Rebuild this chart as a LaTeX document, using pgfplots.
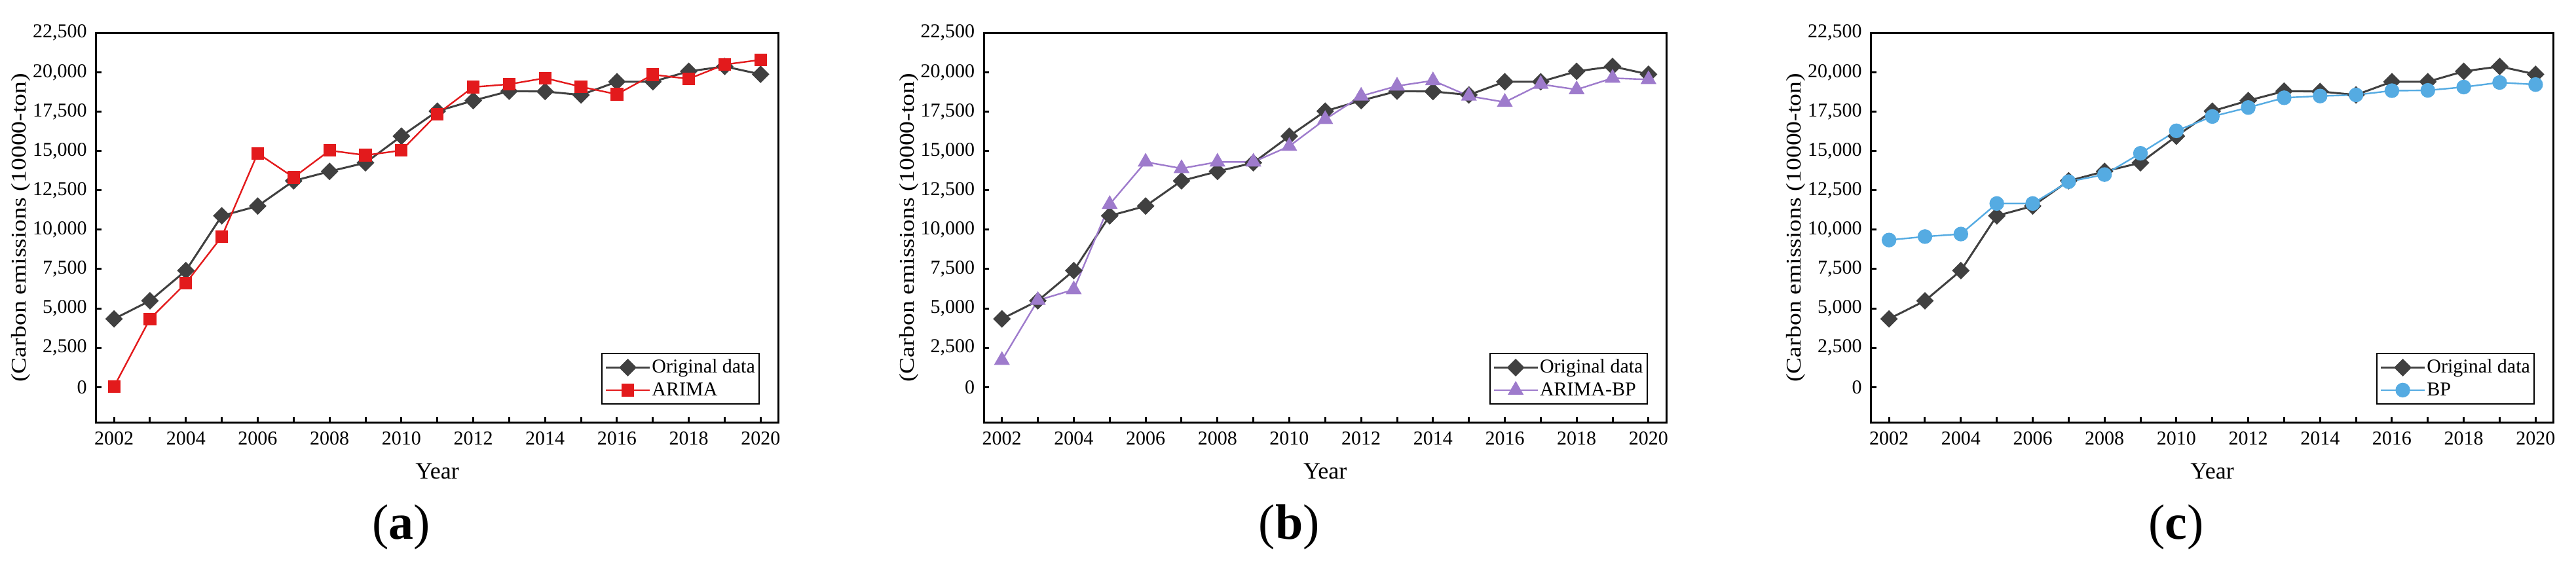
\documentclass[border=0pt]{standalone}
\usepackage{fontspec}
\setmainfont{Liberation Serif}
\usepackage{pgfplots}
\usepackage{graphicx}
\pgfplotsset{compat=1.18}
\definecolor{origc}{HTML}{404040}
\definecolor{arimac}{HTML}{E31A1C}
\definecolor{abpc}{HTML}{9E7BCC}
\definecolor{bpc}{HTML}{55ABE2}

\pgfplotstableread{
year val
2002 4330
2003 5480
2004 7400
2005 10880
2006 11500
2007 13100
2008 13700
2009 14250
2010 15940
2011 17530
2012 18200
2013 18800
2014 18780
2015 18560
2016 19400
2017 19400
2018 20060
2019 20370
2020 19870
}\orig

\pgfplotstableread{
year val
2002 30
2003 4330
2004 6600
2005 9560
2006 14850
2007 13320
2008 15030
2009 14730
2010 15030
2011 17350
2012 19060
2013 19240
2014 19630
2015 19080
2016 18600
2017 19850
2018 19580
2019 20490
2020 20790
}\arima

\pgfplotstableread{
year val
2002 1700
2003 5510
2004 6190
2005 11610
2006 14300
2007 13890
2008 14300
2009 14300
2010 15300
2011 17010
2012 18490
2013 19130
2014 19470
2015 18490
2016 18100
2017 19240
2018 18900
2019 19630
2020 19540
}\arimabp

\pgfplotstableread{
year val
2002 9340
2003 9560
2004 9720
2005 11660
2006 11660
2007 13050
2008 13500
2009 14850
2010 16280
2011 17190
2012 17760
2013 18380
2014 18490
2015 18560
2016 18830
2017 18850
2018 19060
2019 19350
2020 19220
}\bp

\pgfplotsset{
  panel/.style={
    scale only axis, width=260.5pt, height=148.75pt,
    anchor=south west,
    xmin=2001.5, xmax=2020.5, ymin=-2250, ymax=22500,
    xtick={2002,2004,...,2020}, minor xtick={2003,2005,...,2019},
    ytick={0,2500,...,22500},
    scaled y ticks=false, scaled x ticks=false,
    tick align=inside, tick pos=left,
    major tick length=2pt, minor tick length=2pt,
    tick style={line width=0.75pt, black},
    axis line style={line width=0.75pt},
    ticklabel style={font=\fontsize{7.5}{9}\selectfont},
    /pgf/number format/assume math mode=true,
    x tick label style={/pgf/number format/1000 sep={}},
    y tick label style={/pgf/number format/1000 sep={,}},
    legend cell align=left,
    legend style={at={(rel axis cs:1,0)}, anchor=south east,
      xshift=-7.2pt, yshift=6.8pt, draw=black, line width=0.5pt,
      inner xsep=1pt, inner ysep=1pt,
      font=\fontsize{7.5}{9}\selectfont,
      nodes={inner xsep=0.5pt, inner ysep=0.4pt, text height=6pt, text depth=1.8pt}},
    legend image code/.code={
      \draw[mark repeat=2, mark phase=2] plot coordinates {(0pt,0pt) (8.4pt,0pt) (16.75pt,0pt)};
    },
  },
  origstyle/.style={color=origc, line width=0.75pt, mark=square*, mark size=2.0pt,
    mark options={rotate=45, solid, fill=origc, draw=origc}},
}

\newcommand{\ylab}{\scalebox{1.18}[1]{\fontsize{8}{9.6}\selectfont (Carbon emissions (10000-ton)}}

\begin{document}
\begin{tikzpicture}
\path[use as bounding box] (0,0) rectangle (983.25pt,214.75pt);

% Panel (a)
\begin{axis}[panel, at={(36.675pt,53.425pt)}]
\addplot[origstyle] table[x=year,y=val] {\orig};
\addlegendentry{Original data}
\addplot[color=arimac, line width=0.6pt, mark=square*, mark size=2.1pt,
  mark options={solid, fill=arimac}] table[x=year,y=val] {\arima};
\addlegendentry{ARIMA}
\end{axis}

% Panel (b)
\begin{axis}[panel, at={(375.575pt,53.425pt)}]
\addplot[origstyle] table[x=year,y=val] {\orig};
\addlegendentry{Original data}
\addplot[color=abpc, line width=0.6pt, mark=triangle*, mark size=2.9pt,
  mark options={solid, fill=abpc}] table[x=year,y=val] {\arimabp};
\addlegendentry{ARIMA-BP}
\end{axis}

% Panel (c)
\begin{axis}[panel, at={(714.175pt,53.425pt)}]
\addplot[origstyle] table[x=year,y=val] {\orig};
\addlegendentry{Original data}
\addplot[color=bpc, line width=0.6pt, mark=*, mark size=2.5pt,
  mark options={solid, fill=bpc}] table[x=year,y=val] {\bp};
\addlegendentry{BP}
\end{axis}

% y labels
\node[rotate=90, anchor=center, inner sep=0pt] at (8pt,127.8pt) {\ylab};
\node[rotate=90, anchor=center, inner sep=0pt] at (346.9pt,127.8pt) {\ylab};
\node[rotate=90, anchor=center, inner sep=0pt] at (685.4pt,127.8pt) {\ylab};

% x labels
\node[anchor=base, inner sep=0pt, font=\fontsize{9}{11}\selectfont] at (166.9pt,31.8pt) {Year};
\node[anchor=base, inner sep=0pt, font=\fontsize{9}{11}\selectfont] at (505.8pt,31.8pt) {Year};
\node[anchor=base, inner sep=0pt, font=\fontsize{9}{11}\selectfont] at (844.4pt,31.8pt) {Year};

% panel captions
\node[anchor=base, inner sep=0pt, font=\fontsize{19}{22}\selectfont] at (153.2pt,9pt) {(\textbf{a})};
\node[anchor=base, inner sep=0pt, font=\fontsize{19}{22}\selectfont] at (492.1pt,9pt) {(\textbf{b})};
\node[anchor=base, inner sep=0pt, font=\fontsize{19}{22}\selectfont] at (830.7pt,9pt) {(\textbf{c})};
\end{tikzpicture}
\end{document}
